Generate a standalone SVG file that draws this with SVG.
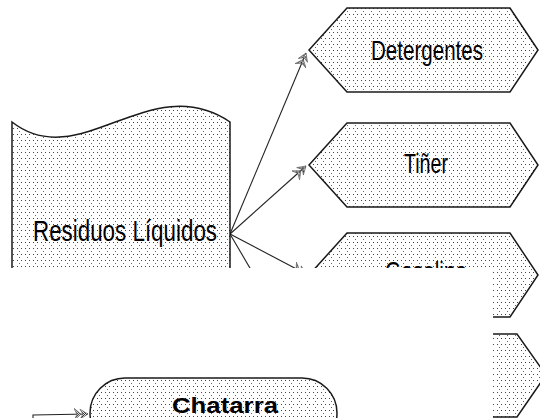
<svg xmlns="http://www.w3.org/2000/svg" width="540" height="418" viewBox="0 0 540 418">
<defs>
<style>
.shape{fill:url(#dots);stroke:#1a1a1a;stroke-width:1.5}
.lbl{font-family:"Liberation Sans",Arial,sans-serif;fill:#000;text-anchor:middle}
.conn{fill:none;stroke:#222;stroke-width:1.1}
</style>
<pattern id="dots" width="8" height="6" patternUnits="userSpaceOnUse">
<rect width="8" height="6" fill="#fff"/>
<rect x="1" y="2" width="1" height="1" fill="#444"/>
<rect x="5" y="2" width="1" height="1" fill="#444"/>
<rect x="3" y="5" width="1" height="1" fill="#666"/>
</pattern>
<pattern id="chk" width="2" height="2" patternUnits="userSpaceOnUse">
<rect width="2" height="2" fill="#fff"/>
<rect x="0" y="0" width="1" height="1" fill="#222"/>
<rect x="1" y="1" width="1" height="1" fill="#222"/>
</pattern>
<marker id="arr" viewBox="0 0 14 12" refX="14" refY="6" markerWidth="14" markerHeight="12" markerUnits="userSpaceOnUse" orient="auto">
<path d="M0,0 L7,6 L0,12 L3,6 Z M6,1 L14,6 L6,11 L9,6 Z" fill="url(#chk)" stroke="#555" stroke-width="0.6"/>
</marker>
<clipPath id="occ">
<path d="M0,0 H540 V418 H493 V268 H0 Z"/>
</clipPath>
</defs>
<rect width="540" height="418" fill="#fff"/>
<g id="connectors">
<path class="conn" d="M230,234 L306,53" marker-end="url(#arr)" clip-path="url(#occ)"/>
<path class="conn" d="M230,234 L306,166" marker-end="url(#arr)" clip-path="url(#occ)"/>
<path class="conn" d="M230,234 L306,274" marker-end="url(#arr)" clip-path="url(#occ)"/>
<path class="conn" d="M230,234 L312,374" marker-end="url(#arr)" clip-path="url(#occ)"/>
<path class="conn" d="M33,418 L33,415 L88,414" marker-end="url(#arr)"/>
</g>
<g id="residuos" clip-path="url(#occ)">
<path class="shape" d="M12,300 L12,122 C80,175 150,68 230,122 L230,300 Z"/>
<text class="lbl" x="125" y="241" font-size="30" textLength="184" lengthAdjust="spacingAndGlyphs">Residuos Líquidos</text>
</g>
<g id="detergentes">
<polygon class="shape" points="309,50 347,8 510,8 538,50 510,92 347,92"/>
<text class="lbl" x="427" y="60" font-size="28" textLength="112" lengthAdjust="spacingAndGlyphs">Detergentes</text>
</g>
<g id="tiner">
<polygon class="shape" points="309,165 347,123 510,123 538,165 510,207 347,207"/>
<text class="lbl" x="426" y="173" font-size="28" textLength="44" lengthAdjust="spacingAndGlyphs">Tiñer</text>
</g>
<g id="gasolina" clip-path="url(#occ)">
<polygon class="shape" points="309,275 347,233 510,233 538,275 510,317 347,317"/>
<text class="lbl" x="426" y="281" font-size="28" textLength="82" lengthAdjust="spacingAndGlyphs">Gasolina</text>
</g>
<g id="nodo4" clip-path="url(#occ)">
<polygon class="shape" points="316,375 354,334 517,334 546,375 517,417 354,417"/>
</g>
<g id="chatarra">
<rect class="shape" x="90" y="378" width="247" height="70" rx="35" ry="35"/>
<text class="lbl" x="225" y="413" font-size="22" font-weight="bold" textLength="106" lengthAdjust="spacingAndGlyphs">Chatarra</text>
</g>
</svg>
